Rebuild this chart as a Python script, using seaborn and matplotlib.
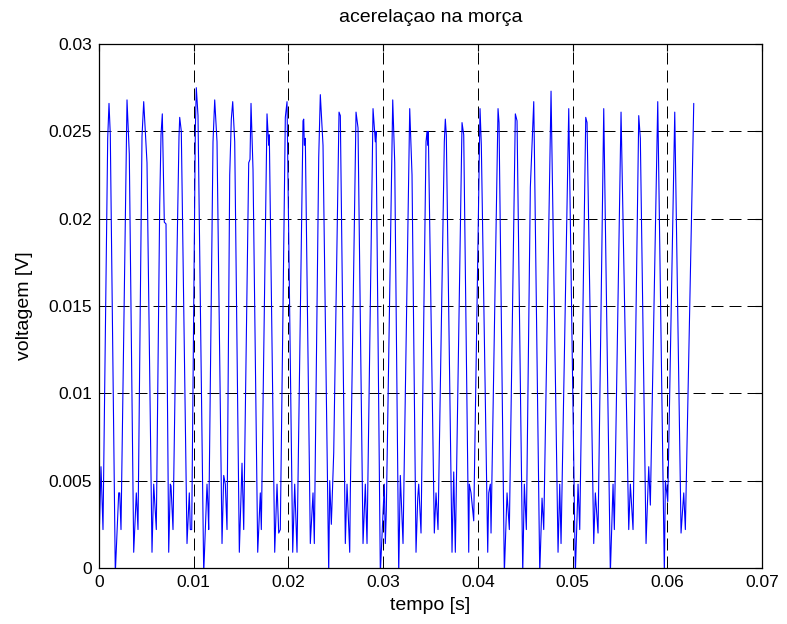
import matplotlib
matplotlib.use("Agg")
import matplotlib.pyplot as plt
from matplotlib.ticker import FuncFormatter
import numpy as np
import pandas as pd
import seaborn as sns

# Accelerometer voltage on the vice: sample instants (ms) and readings (V)
tempo_ms = [
    0.053, 0.211, 0.422, 0.919, 1.056, 1.193, 1.721,
    2.080, 2.186, 2.323, 2.957, 3.199, 3.664,
    3.939, 4.012, 4.118, 4.540, 4.720, 5.068, 5.596,
    5.776, 6.050, 6.409, 6.547, 6.684, 6.895, 7.075, 7.360,
    7.529, 7.603, 7.814, 8.236, 8.447, 8.521, 8.690, 9.292,
    9.535, 9.641, 9.789, 10.169, 10.274, 10.453, 11.055,
    11.404, 11.509, 11.583, 12.037, 12.217, 12.460, 12.988,
    13.167, 13.336, 13.516, 13.801, 13.970, 14.118, 14.329, 14.815,
    15.100, 15.279, 15.807, 15.944, 16.050, 16.261, 16.757,
    17.032, 17.137, 17.739, 17.919, 17.982, 18.552,
    18.795, 18.974, 19.143, 19.671, 19.851, 20.453,
    20.664, 20.907, 21.540, 21.614, 21.678, 21.783, 22.311,
    22.596, 22.734, 23.198, 23.367, 23.652, 24.254,
    24.360, 24.529, 24.782, 25.342, 25.479, 26.007,
    26.186, 26.471, 26.535, 27.137, 27.348, 27.876,
    28.119, 28.298, 28.932, 29.175, 29.249, 29.703,
    30.125, 30.231, 30.336, 31.012, 31.223, 31.645,
    31.814, 32.099, 32.806, 33.049, 33.471,
    33.651, 33.756, 33.999, 34.527, 34.632, 34.706, 34.770, 35.403,
    35.583, 35.794, 36.459, 36.565, 36.670, 37.272,
    37.452, 37.621, 38.328, 38.508, 39.036,
    39.099, 39.279, 39.564, 40.229, 40.367, 41.042,
    41.148, 41.317, 41.391, 42.130, 42.236, 42.796,
    43.081, 43.324, 43.957, 44.137, 44.739,
    44.908, 45.119, 45.542, 45.901, 45.964, 46.534,
    46.777, 46.956, 47.727, 48.466,
    48.645, 48.783, 49.596, 50.293,
    50.578, 50.757, 51.391, 51.528, 52.235,
    52.404, 52.689, 53.291, 53.988,
    54.273, 54.410, 55.117, 55.930,
    56.099, 56.384, 56.986, 57.155, 57.757,
    58.042, 58.211, 58.993, 59.690,
    59.795, 60.049, 60.788, 61.453,
    61.738, 61.907, 62.794,
]

voltagem_v = [
    0.0025, 0.0058, 0.0022, 0.0246, 0.0266, 0.0248, -0.0003,
    0.0043, 0.0043, 0.0022, 0.0268, 0.0237, 0.0009,
    0.0043, 0.0035, 0.0022, 0.0247, 0.0267, 0.0232, 0.0009,
    0.0048, 0.0022, 0.0208, 0.0248, 0.0260, 0.0198, 0.0197, 0.0009,
    0.0048, 0.0047, 0.0022, 0.0180, 0.0247, 0.0258, 0.0250, 0.0014,
    0.0043, 0.0022, 0.0022, 0.0250, 0.0275, 0.0259, -0.0003,
    0.0048, 0.0035, 0.0022, 0.0244, 0.0268, 0.0244, 0.0014,
    0.0053, 0.0048, 0.0022, 0.0225, 0.0257, 0.0267, 0.0244, 0.0009,
    0.0060, 0.0022, 0.0232, 0.0234, 0.0266, 0.0228, 0.0009,
    0.0043, 0.0022, 0.0260, 0.0242, 0.0248, 0.0009,
    0.0048, 0.0020, 0.0022, 0.0258, 0.0267, 0.0009,
    0.0048, 0.0009, 0.0256, 0.0257, 0.0242, 0.0246, 0.0014,
    0.0043, 0.0014, 0.0235, 0.0271, 0.0242, -0.0003,
    0.0050, 0.0025, 0.0066, 0.0261, 0.0259, 0.0014,
    0.0048, 0.0009, 0.0043, 0.0261, 0.0252, 0.0014,
    0.0048, 0.0014, 0.0263, 0.0244, 0.0250, -0.0003,
    0.0048, 0.0014, 0.0033, 0.0268, 0.0232, -0.0003,
    0.0053, 0.0014, 0.0263, 0.0225, 0.0009,
    0.0040, 0.0048, 0.0020, 0.0244, 0.0250, 0.0242, 0.0250, 0.0020,
    0.0043, 0.0022, 0.0244, 0.0257, 0.0248, 0.0009,
    0.0055, 0.0009, 0.0255, 0.0248, 0.0009,
    0.0048, 0.0043, 0.0027, 0.0263, 0.0242, 0.0009,
    0.0043, 0.0048, 0.0020, 0.0263, 0.0255, -0.0003,
    0.0043, 0.0022, 0.0260, 0.0256, -0.0003,
    0.0048, 0.0022, 0.0218, 0.0267, 0.0242, -0.0003,
    0.0040, 0.0022, 0.0273, 0.0009,
    0.0048, 0.0014, 0.0263, -0.0003,
    0.0048, 0.0022, 0.0258, 0.0255, 0.0014,
    0.0043, 0.0020, 0.0263, -0.0003,
    0.0048, 0.0022, 0.0261, 0.0022,
    0.0048, 0.0022, 0.0259, 0.0246, 0.0014,
    0.0058, 0.0036, 0.0267, -0.0003,
    0.0050, 0.0038, 0.0261, 0.0020,
    0.0043, 0.0022, 0.0266,
]

x_ticks = [0, 0.01, 0.02, 0.03, 0.04, 0.05, 0.06, 0.07]
y_ticks = [0, 0.005, 0.01, 0.015, 0.02, 0.025, 0.03]

df = pd.DataFrame({"tempo": np.array(tempo_ms) / 1000.0, "voltagem": voltagem_v})

sns.set_style("white")
plt.rcParams["font.family"] = ["Liberation Sans", "DejaVu Sans"]
plt.rcParams["text.color"] = "black"
plt.rcParams["axes.labelcolor"] = "black"

fig = plt.figure(figsize=(7.87, 6.24), dpi=100)
ax = fig.add_axes([99 / 787, 56 / 624, 663 / 787, 524 / 624])

sns.lineplot(data=df, x="tempo", y="voltagem", ax=ax, color="#0000ff",
             linewidth=0.8, estimator=None, sort=False)

ax.set_xlim(x_ticks[0], x_ticks[-1])
ax.set_ylim(y_ticks[0], y_ticks[-1])
ax.set_xticks(x_ticks)
ax.set_yticks(y_ticks)
fmt = FuncFormatter(lambda v, _: "%g" % round(v, 6))
ax.xaxis.set_major_formatter(fmt)
ax.yaxis.set_major_formatter(fmt)

ax.grid(True, color="black", linestyle=(0, (12, 6)), linewidth=0.72)
ax.set_axisbelow(True)

for s in ax.spines.values():
    s.set_color("black")
    s.set_linewidth(0.9)

ax.tick_params(axis="both", direction="in", length=5, width=0.8,
               top=True, right=True, labelsize=12.5, colors="black", pad=5)

ax.set_xlabel("tempo [s]", fontsize=14, labelpad=5, color="black")
ax.set_ylabel("voltagem [V]", fontsize=14, labelpad=11, color="black")
ax.set_title("acerelaçao na morça", fontsize=14, pad=16, color="black")

fig.savefig("out.png", dpi=100)
